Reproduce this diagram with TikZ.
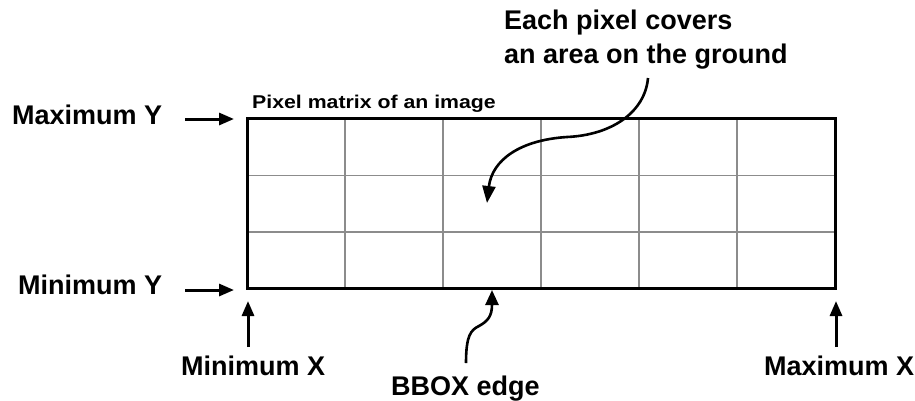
\documentclass[tikz,border=0pt]{standalone}
\usepackage{fontspec}
\setmainfont{Liberation Sans}
\usetikzlibrary{arrows.meta}
\begin{document}
\begin{tikzpicture}[x=1pt,y=-1pt,
  lbl/.style={font=\fontsize{27}{34}\selectfont\bfseries, anchor=base west, inner sep=0pt},
  gridline/.style={draw=black!45, line width=1.6pt},
  border/.style={draw=black, line width=3pt},
  arr/.style={line width=3pt, -{Triangle[length=15pt,width=12pt]}},
  carr/.style={line width=2.6pt, -{Triangle[length=17pt,width=13pt]}}]
\useasboundingbox (0,0) rectangle (915,400);
% pixel matrix
\coordinate (NW) at (247,118);
\coordinate (SE) at (835,288);
\foreach \x in {345,443,541,639,737} \draw[gridline] (\x,118) -- (\x,288);
\foreach \y in {175.5,232} \draw[gridline] (247,\y) -- (835,\y);
\draw[border] (NW) rectangle (SE);
% labels
\node[lbl] (maxY) at (12,124.5) {Maximum Y};
\node[lbl] (minY) at (18,294) {Minimum Y};
\node[lbl] (minX) at (181,375) {Minimum X};
\node[lbl] (maxX) at (764,375) {Maximum X};
\node[lbl] (bbox) at (391,395) {BBOX edge};
\node[font=\fontsize{27}{34}\selectfont\bfseries, anchor=north west, align=left, inner sep=0pt] (each) at (504,9.5) {Each pixel covers\\an area on the ground};
\node[font=\fontsize{18.5}{22}\selectfont\bfseries, anchor=base west, inner sep=0pt] (pm) at (252,108) {\scalebox{1.15}[1]{Pixel matrix of an image}};
% straight arrows
\coordinate (maxYa) at (185,119); \coordinate (maxYb) at (234,119);
\coordinate (minYa) at (185,290); \coordinate (minYb) at (234,290);
\coordinate (minXa) at (248,347); \coordinate (minXb) at (248,301);
\coordinate (maxXa) at (836,347); \coordinate (maxXb) at (836,301);
\draw[arr] (maxYa) -- (maxYb);
\draw[arr] (minYa) -- (minYb);
\draw[arr] (minXa) -- (minXb);
\draw[arr] (maxXa) -- (maxXb);
% curved arrows
\coordinate (bba) at (466,363); \coordinate (bbb) at (492,290);
\draw[carr, -{Triangle[length=15pt,width=13pt]}] (bba) .. controls (466,335) and (471,330) .. (479,326) .. controls (488,321) and (492,316) .. (bbb);
\coordinate (eacha) at (648,78); \coordinate (eachb) at (487,203);
\draw[carr] (eacha) .. controls (645,112) and (612,135) .. (567,137) .. controls (520,140) and (492,160) .. (eachb);
\end{tikzpicture}
\end{document}
